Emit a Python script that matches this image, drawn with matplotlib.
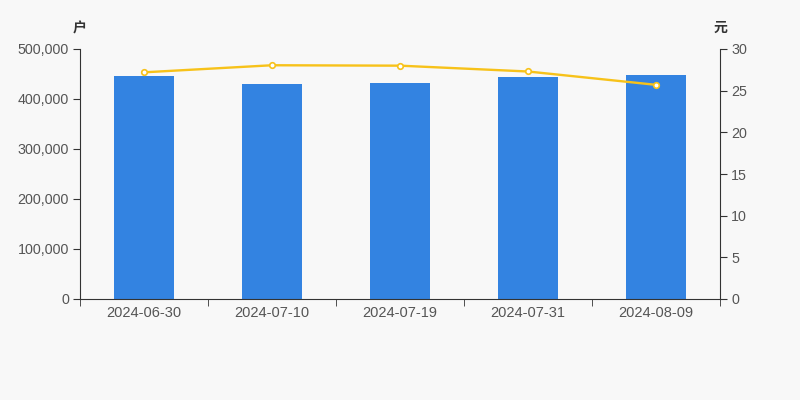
import matplotlib.pyplot as plt
import matplotlib.ticker as mticker

# data
dates = ['2024-06-30', '2024-07-10', '2024-07-19', '2024-07-31', '2024-08-09']
holders = [446600, 429400, 432000, 443400, 447400]   # 户
price = [27.2, 28.05, 28.0, 27.3, 25.7]              # 元

plt.rcParams['font.family'] = ['Liberation Sans', 'Noto Sans CJK SC', 'DejaVu Sans']

bg = '#f8f8f8'
fig = plt.figure(figsize=(8, 4), dpi=100, facecolor=bg)
ax = fig.add_axes([0.1, 0.2525, 0.8, 0.625], facecolor=bg)

x = range(len(dates))
ax.bar(x, holders, width=0.47, color='#3383e1', zorder=2)
ax.set_xlim(-0.5, len(dates) - 0.5)
ax.set_ylim(0, 500000)
ax.yaxis.set_major_locator(mticker.MultipleLocator(100000))
ax.yaxis.set_major_formatter(mticker.FuncFormatter(lambda v, p: f'{int(v):,}'))

ax.set_xticks(list(x))
ax.set_xticklabels(dates)
ax.set_xticks([i - 0.5 for i in range(len(dates) + 1)], minor=True)
ax.tick_params(axis='x', which='major', length=0, pad=5, labelsize=10.5, labelcolor='#555555')
ax.tick_params(axis='x', which='minor', length=5, color='#333333')
ax.tick_params(axis='y', length=5, color='#333333', labelsize=10.3, labelcolor='#555555', pad=3)

for s in ['top', 'right']:
    ax.spines[s].set_visible(False)
ax.spines['left'].set_color('#333333')
ax.spines['bottom'].set_color('#333333')

ax2 = ax.twinx()
ax2.plot(x, price, color='#f7c21a', lw=1.7, marker='o', ms=4, mfc='white', mec='#f7c21a', mew=1.2, zorder=3)
ax2.set_ylim(0, 30)
ax2.yaxis.set_major_locator(mticker.MultipleLocator(5))
ax2.tick_params(axis='y', length=5, color='#333333', labelsize=10.3, labelcolor='#555555', pad=3)
for s in ['top', 'left', 'bottom']:
    ax2.spines[s].set_visible(False)
ax2.spines['right'].set_color('#333333')

fig.text(80 / 800, 1 - 28 / 400, '户', ha='center', va='center', fontsize=10, color='#333333',
         family=['Noto Sans CJK SC'], fontweight='bold')
fig.text(720 / 800, 1 - 28 / 400, '元', ha='center', va='center', fontsize=10, color='#333333',
         family=['Noto Sans CJK SC'], fontweight='bold')

plt.savefig('out.png', dpi=100, facecolor=bg)
